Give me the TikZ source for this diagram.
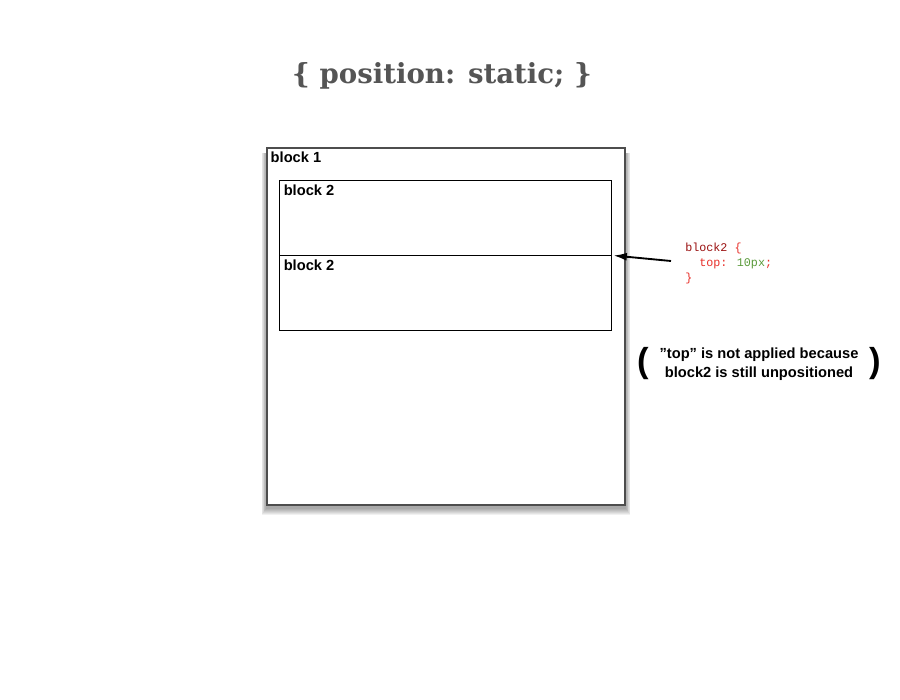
\documentclass[tikz,border=0pt]{standalone}
\usepackage{fontspec}
\setmainfont{Liberation Sans}
\newfontfamily\titlefont{DejaVu Serif}
\newfontfamily\codefont{Liberation Mono}
\usetikzlibrary{positioning,arrows.meta,backgrounds}
\definecolor{titlegrey}{HTML}{555555}
\definecolor{frame}{HTML}{4D4D4D}
\definecolor{selector}{HTML}{9A1010}
\definecolor{prop}{HTML}{E8302A}
\definecolor{value}{HTML}{5A9A3A}

\begin{document}
\begin{tikzpicture}[
  x=0.75pt, y=-0.75pt,
  title/.style={font=\titlefont\bfseries\fontsize{20.7}{26}\selectfont, text=titlegrey},
  outer/.style={draw=frame, line width=0.8pt, fill=white, inner sep=0pt, minimum width=268.5pt, minimum height=267.75pt},
  inner/.style={draw=black, line width=0.75pt, inner sep=0pt, minimum width=249pt, minimum height=56.25pt},
  lbl/.style={font=\bfseries\fontsize{11}{13}\selectfont, anchor=north west, inner sep=0pt},
  code/.style={font=\codefont\fontsize{8.8}{11.25}\selectfont, align=left, anchor=north west, inner sep=0pt},
  note/.style={font=\bfseries\fontsize{11}{14}\selectfont, align=center},
  paren/.style={font=\bfseries\fontsize{26}{28}\selectfont},
  pointer/.style={-{Latex[length=10pt,width=6pt]}, line width=1.4pt}
]
  \useasboundingbox (0,0) rectangle (900,700);

  \node[title] (heading) at (442,76) {\{ position: static; \}};

  % containing block and its two children
  \node[outer] (block1) at (446,326.5) {};
  \begin{scope}[on background layer]
    \fill[white] (0,0) rectangle (900,700);
    \foreach \i in {1,...,7}
      \fill[black, opacity=0.055] ([shift={(-\i*0.7,6)}]block1.north west) rectangle ([shift={(\i*0.7,3+\i*0.9)}]block1.south east);
  \end{scope}
  \node[inner] (blockA) at (445,217.5) {};
  \node[inner] (blockB) at (445,292.5) {};

  \node[lbl] (lbl1) at ([shift={(4,4)}]block1.north west) {block 1};
  \node[lbl] (lblA) at ([shift={(5,5)}]blockA.north west) {block 2};
  \node[lbl] (lblB) at ([shift={(5,5)}]blockB.north west) {block 2};

  % css rule
  \node[code] (rule) at (685,243) {\textcolor{selector}{block2} \textcolor{prop}{\{}\\
    \textcolor{prop}{\ \ top:} \textcolor{value}{10px}\textcolor{prop}{;}\\
    \textcolor{prop}{\}}};
  \coordinate (tail) at (671,261);
  \draw[pointer] (tail) -- ([xshift=1.5pt]blockA.south east);

  % remark
  \node[note] (remark) at (759,364) {”top” is not applied because\\block2 is still unpositioned};
  \node[paren] (lparen) at (643,364) {(};
  \node[paren] (rparen) at (875,364) {)};
\end{tikzpicture}
\end{document}
